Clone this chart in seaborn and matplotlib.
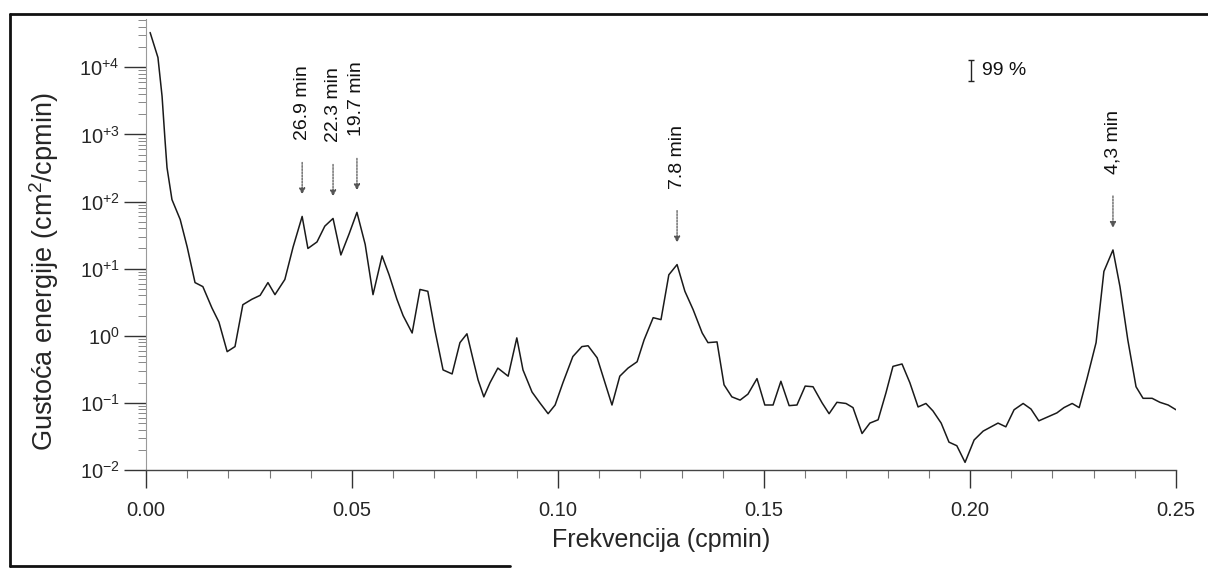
import numpy as np
import pandas as pd
import matplotlib
matplotlib.use("Agg")
import matplotlib.pyplot as plt
import matplotlib.ticker as mticker
from matplotlib.lines import Line2D
import seaborn as sns

# ---------------- data ----------------
freq = [0.0010, 0.0029, 0.0039, 0.0046, 0.0051, 0.0063, 0.0083, 0.0100, 0.0119, 0.0138,
        0.0160, 0.0177, 0.0197, 0.0216, 0.0235, 0.0257, 0.0277, 0.0296, 0.0313, 0.0337,
        0.0357, 0.0379, 0.0393, 0.0415, 0.0434, 0.0454, 0.0473, 0.0493, 0.0512, 0.0532,
        0.0551, 0.0573, 0.0590, 0.0609, 0.0624, 0.0646, 0.0665, 0.0684, 0.0701, 0.0721,
        0.0743, 0.0762, 0.0779, 0.0794, 0.0806, 0.0820, 0.0835, 0.0854, 0.0879, 0.0900,
        0.0915, 0.0937, 0.0956, 0.0976, 0.0993, 0.1012, 0.1036, 0.1058, 0.1073, 0.1095,
        0.1114, 0.1131, 0.1150, 0.1170, 0.1192, 0.1209, 0.1231, 0.1250, 0.1269, 0.1289,
        0.1308, 0.1328, 0.1350, 0.1364, 0.1386, 0.1403, 0.1422, 0.1442, 0.1461, 0.1483,
        0.1502, 0.1522, 0.1541, 0.1561, 0.1580, 0.1600, 0.1619, 0.1641, 0.1658, 0.1677,
        0.1699, 0.1716, 0.1738, 0.1757, 0.1777, 0.1796, 0.1813, 0.1835, 0.1854, 0.1874,
        0.1893, 0.1910, 0.1930, 0.1949, 0.1968, 0.1988, 0.2010, 0.2032, 0.2051, 0.2068,
        0.2087, 0.2107, 0.2129, 0.2148, 0.2167, 0.2189, 0.2211, 0.2228, 0.2248, 0.2265,
        0.2284, 0.2306, 0.2325, 0.2347, 0.2364, 0.2383, 0.2403, 0.2420, 0.2442, 0.2461,
        0.2481, 0.2500]

energy = [3.3e4, 1.4e4, 3.7e3, 850, 320, 107, 54, 21, 6.2, 5.4,
          2.6, 1.6, 0.58, 0.69, 2.9, 3.5, 4.0, 6.2, 4.1, 6.9,
          21, 60, 20, 25, 43, 56, 16, 33, 69, 23,
          4.1, 15.5, 8.1, 3.5, 2.0, 1.1, 4.9, 4.6, 1.23, 0.31,
          0.27, 0.79, 1.07, 0.44, 0.22, 0.123, 0.20, 0.33, 0.25, 0.93,
          0.31, 0.145, 0.100, 0.069, 0.093, 0.20, 0.49, 0.69, 0.71, 0.47,
          0.20, 0.093, 0.25, 0.33, 0.41, 0.87, 1.86, 1.74, 8.1, 11.5,
          4.6, 2.45, 1.10, 0.79, 0.81, 0.186, 0.123, 0.110, 0.135, 0.23,
          0.093, 0.093, 0.21, 0.091, 0.093, 0.178, 0.174, 0.100, 0.069, 0.102,
          0.098, 0.085, 0.035, 0.050, 0.056, 0.141, 0.35, 0.38, 0.20, 0.087,
          0.098, 0.076, 0.050, 0.026, 0.023, 0.013, 0.028, 0.038, 0.044, 0.050,
          0.044, 0.079, 0.098, 0.081, 0.054, 0.062, 0.071, 0.085, 0.098, 0.085,
          0.23, 0.79, 9.1, 19, 5.4, 0.87, 0.174, 0.117, 0.117, 0.102,
          0.093, 0.079]

peak_periods = [26.9, 22.3, 19.7, 7.8, 4.3]
peak_labels = ["26.9 min", "22.3 min", "19.7 min", "7.8 min", "4,3 min"]

ci_freq = 0.2002
ci_center = 9.1e3
ci_low = 6.3e3
ci_high = 1.3e4
ci_label = "99 %"

x_ticks = [0.00, 0.05, 0.10, 0.15, 0.20, 0.25]
x_tick_labels = ["0.00", "0.05", "0.10", "0.15", "0.20", "0.25"]
y_ticks = [1e-2, 1e-1, 1e0, 1e1, 1e2, 1e3, 1e4]
y_tick_labels = ["10$^{-2}$", "10$^{-1}$", "10$^{0}$", "10$^{+1}$",
                 "10$^{+2}$", "10$^{+3}$", "10$^{+4}$"]

x_label = "Frekvencija (cpmin)"
y_label = "Gustoća energije (cm$^2$/cpmin)"

# ---------------- style ----------------
sns.set_style("ticks")
plt.rcParams["font.family"] = ["Liberation Sans", "DejaVu Sans"]
plt.rcParams["mathtext.fontset"] = "custom"
plt.rcParams["mathtext.rm"] = "Liberation Sans"
plt.rcParams["mathtext.it"] = "Liberation Sans:italic"
plt.rcParams["mathtext.bf"] = "Liberation Sans:bold"

df = pd.DataFrame({"f": freq, "E": energy})

fig = plt.figure(figsize=(12.08, 5.72), dpi=100)
ax = fig.add_axes([146 / 1208, 1 - 470 / 572, (1176 - 146) / 1208, (470 - 19) / 572])

sns.lineplot(data=df, x="f", y="E", ax=ax, estimator=None, sort=False,
             color="#1a1a1a", lw=1.1)

ax.set_yscale("log")
ax.set_xlim(0, 0.25)
ax.set_ylim(1e-2, 10 ** 4.72)

ax.xaxis.set_major_locator(mticker.FixedLocator(x_ticks))
ax.set_xticklabels(x_tick_labels)
ax.xaxis.set_minor_locator(mticker.MultipleLocator(0.01))
ax.yaxis.set_major_locator(mticker.FixedLocator(y_ticks))
ax.set_yticklabels(y_tick_labels)
ax.yaxis.set_minor_locator(mticker.LogLocator(base=10, subs=np.arange(2, 10), numticks=20))
ax.yaxis.set_minor_formatter(mticker.NullFormatter())

ax.tick_params(axis="x", which="major", direction="out", length=13, width=1.0,
               color="#333333", labelsize=14.5, pad=9)
ax.tick_params(axis="x", which="minor", direction="out", length=6, width=0.8,
               color="#777777")
ax.tick_params(axis="y", which="major", direction="out", length=16, width=1.0,
               color="#333333", labelsize=14.5, pad=3)
ax.tick_params(axis="y", which="minor", direction="out", length=6, width=0.7,
               color="#888888")

for s in ["top", "right"]:
    ax.spines[s].set_visible(False)
ax.spines["left"].set_color("#9a9a9a")
ax.spines["left"].set_linewidth(0.8)
ax.spines["left"].set_linestyle((0, (2, 1)))
ax.spines["bottom"].set_color("#444444")
ax.spines["bottom"].set_linewidth(1.0)

ax.set_xlabel(x_label, fontsize=18, labelpad=6)
ax.set_ylabel(y_label, fontsize=19.5)
ax.yaxis.set_label_coords(-0.083, 0.44)

# ---------------- peak annotations ----------------
f_arr = np.array(freq)
e_arr = np.array(energy)
for per, lab in zip(peak_periods, peak_labels):
    target = 1.0 / per
    win = np.abs(f_arr - target) < 0.003
    idx = np.where(win)[0][np.argmax(e_arr[win])]
    fx, ey = f_arr[idx], e_arr[idx]
    ax.annotate("", xy=(fx, ey), xycoords="data",
                xytext=(0, 54 * 0.72), textcoords="offset points",
                arrowprops=dict(arrowstyle="-|>", color="#555555", lw=0.9,
                                linestyle=(0, (1.5, 1)), shrinkA=0,
                                shrinkB=22 * 0.72, mutation_scale=9))
    ax.annotate(lab, xy=(fx, ey), xycoords="data",
                xytext=(0, 76 * 0.72), textcoords="offset points",
                rotation=90, ha="center", va="bottom", fontsize=14,
                color="#111111")

# ---------------- 99 % confidence bar ----------------
ax.errorbar([ci_freq], [ci_center],
            yerr=[[ci_center - ci_low], [ci_high - ci_center]],
            fmt="none", ecolor="#222222", elinewidth=1.0, capsize=2.5, capthick=1.0)
ax.annotate(ci_label, xy=(ci_freq, ci_center), xytext=(8, 0),
            textcoords="offset points", ha="left", va="center",
            fontsize=14, color="#111111")

# ---------------- scanned page frame ----------------
W, H = 1208, 572
frame_lines = [((10, 1208), (14, 14)),
               ((10, 10), (14, 566)),
               ((10, 510), (566, 566))]
for xs, ys in frame_lines:
    fig.add_artist(Line2D([xs[0] / W, xs[1] / W], [1 - ys[0] / H, 1 - ys[1] / H],
                          transform=fig.transFigure, color="#111111", lw=2.0))

fig.savefig("out.png", dpi=100)
